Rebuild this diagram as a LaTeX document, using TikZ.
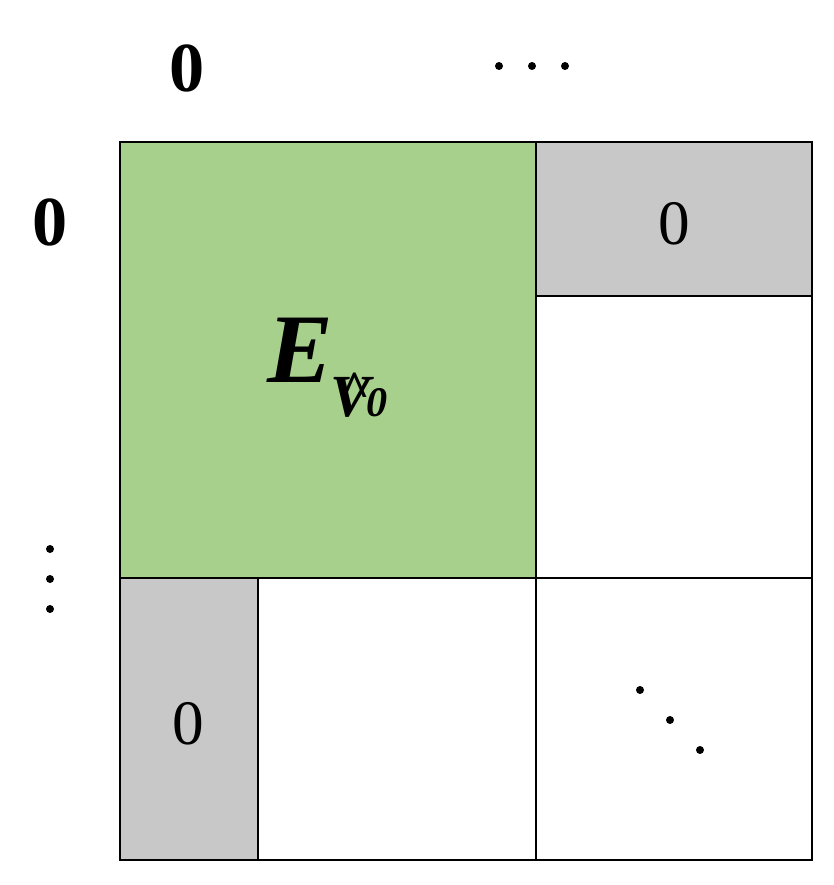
\documentclass[tikz,border=0pt]{standalone}
\usepackage{fontspec}
\setmainfont{Liberation Serif}
\usetikzlibrary{positioning}
\begin{document}
\begin{tikzpicture}[x=0.02cm, y=-0.02cm,
      cell/.style={draw, line width=1.2pt},
      lbl/.style={font=\fontsize{40}{40}\selectfont\bfseries},
      ent/.style={font=\fontsize{36}{36}\selectfont},
      dot/.style={circle, fill, inner sep=0pt, minimum size=0.16cm}
      ]
      \useasboundingbox (0,0) rectangle (833,885);

      % blocks
      \filldraw[cell, fill={rgb,255:red,168;green,208;blue,141}] (120,142) rectangle (536,578);
      \filldraw[cell, fill={rgb,255:red,200;green,200;blue,200}] (536,142) rectangle (812,296);
      \filldraw[cell, fill={rgb,255:red,200;green,200;blue,200}] (120,578) rectangle (258,860);
      \draw[cell] (536,296) rectangle (812,578);
      \draw[cell] (258,578) rectangle (536,860);
      \draw[cell] (536,578) rectangle (812,860);

      % labels
      \node[lbl] (top0) at (187,68) {0};
      \node[lbl] (left0) at (50,222) {0};
      \node[ent] (e1) at (674,224) {0};
      \node[ent] (e2) at (188,724) {0};
      \foreach \i in {0,1,2} {
        \node[dot] (hd\i) at (499+33*\i,66) {};
        \node[dot] (vd\i) at (50,549+30*\i) {};
        \node[dot] (dd\i) at (640+30*\i,690+30*\i) {};
      }
      \node[font=\fontsize{56}{56}\selectfont\bfseries\itshape] (ev) at (300,350) {E};
      \node[font=\fontsize{34}{34}\selectfont\bfseries\itshape, anchor=base] (vv) at (350,416) {V};
      \node[font=\fontsize{24}{24}\selectfont\bfseries\itshape, anchor=base west, inner sep=0pt] (v0) at (366,416) {0};
      \node[font=\fontsize{30}{30}\selectfont\bfseries, inner sep=0pt] (hat) at (355,390) {\^{}};
   \end{tikzpicture}
\end{document}
